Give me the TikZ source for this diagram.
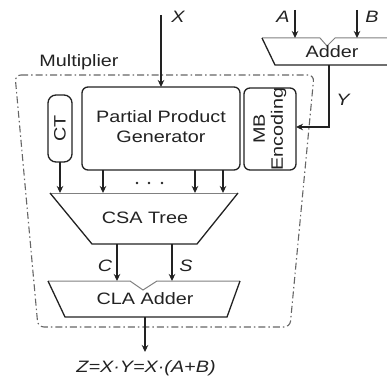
\documentclass[tikz,border=0pt]{standalone}
\usepackage{fontspec}
\setmainfont{Liberation Sans}[FakeStretch=1.2]
\usetikzlibrary{arrows.meta}
\definecolor{ink}{HTML}{222222}
\definecolor{frame}{HTML}{666666}
\begin{document}
\begin{tikzpicture}[x=1pt,y=-1pt,
  every node/.style={inner sep=0pt,outer sep=0pt,text=ink,font=\fontsize{16.5}{20}\selectfont},
  blk/.style={draw=ink,line width=1.3pt,rounded corners=6pt,fill=white},
  edge/.style={draw=ink,line width=1.3pt},
  topedge/.style={draw=gray,line width=1pt},
  arr/.style={draw=ink,line width=1.2pt,-{Stealth[length=7pt,width=6.5pt]}},
  lbl/.style={font=\fontsize{16.5}{20}\selectfont\itshape}]
\useasboundingbox (0,0) rectangle (387,379);
% multiplier frame
\draw[frame,line width=1.1pt,dash pattern=on 7pt off 3pt on 1.5pt off 3pt,rounded corners=6pt]
  (15,75) -- (314,75) -- (290,327) -- (38,327) -- cycle;
\node (mult) at (79,62) {Multiplier};
% blocks
\node[blk,minimum width=158pt,minimum height=83pt] (ppg) at (161,128.5) {};
\node[align=center] (ppgt) at (161,127) {Partial Product\\Generator};
\node[blk,minimum width=24pt,minimum height=67pt,rounded corners=8pt] (ct) at (60,128.5) {};
\node[rotate=90] (ctt) at (ct.center) {CT};
\node[blk,minimum width=52pt,minimum height=82pt] (mb) at (270,129) {};
\node[rotate=90,align=center,font=\fontsize{16.5}{18}\selectfont] (mbt) at (mb.center) {MB\\Encoding};
% adder
\coordinate (addA) at (295,38);
\coordinate (addB) at (357,38);
\coordinate (addOut) at (329,65);
\draw[topedge] (392,38) -- (335,38) -- (327,46) -- (320,38) -- (262,38);
\draw[edge] (262,38) -- (275,65) -- (392,65);
\node (adder) at (332,52) {Adder};
% CSA tree
\draw[topedge] (50,193) -- (238,193);
\draw[edge] (50,193) -- (92,244) -- (197,244) -- (238,193);
\node (csa) at (145,218) {CSA Tree};
\coordinate (csaC) at (117,244);
\coordinate (csaS) at (172,244);
% CLA adder
\draw[topedge] (48,281) -- (130,281) -- (143,290) -- (157,281) -- (240,281);
\draw[edge] (48,281) -- (65,317) -- (227,317) -- (240,281);
\node (cla) at (145,299) {CLA Adder};
\coordinate (claC) at (117,281);
\coordinate (claS) at (172,281);
\coordinate (claOut) at (145,317);
% inputs
\coordinate (xin) at (161,15);
\coordinate (ain) at (295,10);
\coordinate (bin) at (357,10);
\node[lbl] (xl) at (178,17) {X};
\node[lbl] (al) at (283,17) {A};
\node[lbl] (bl) at (372,17) {B};
\draw[arr] (xin) -- (ppg.north);
\draw[arr] (ain) -- (addA);
\draw[arr] (bin) -- (addB);
% Y
\coordinate (ycorner) at (329,127);
\draw[arr] (addOut) -- (ycorner) -- (mb.east |- ycorner);
\node[lbl] (yl) at (343,100) {Y};
% arrows into CSA
\coordinate (c1) at (60,193);
\coordinate (c2) at (103,193);
\coordinate (c3) at (195,193);
\coordinate (c4) at (223,193);
\draw[arr] (ct.south) -- (c1);
\draw[arr] (ppg.south -| c2) -- (c2);
\draw[arr] (ppg.south -| c3) -- (c3);
\draw[arr] (ppg.south -| c4) -- (c4);
\foreach \dx in {137,149,162}{\fill[ink] (\dx,183) circle (1.3pt);}
% C S
\draw[arr] (csaC) -- (claC);
\draw[arr] (csaS) -- (claS);
\node[lbl] (cl) at (105,266) {C};
\node[lbl] (sl) at (186,266) {S};
% output
\coordinate (zout) at (145,352);
\draw[arr] (claOut) -- (zout);
\node[lbl] (zl) at (146,368) {Z=X·Y=X·(A+B)};
\end{tikzpicture}
\end{document}
